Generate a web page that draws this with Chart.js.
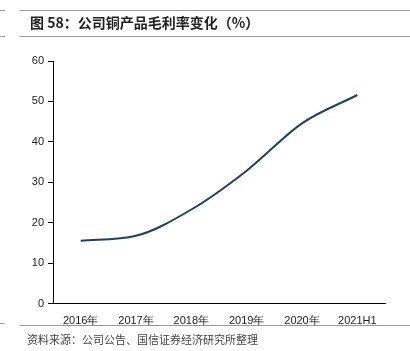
<!DOCTYPE html>
<html>
<head>
<meta charset="utf-8">
<script src="https://cdn.jsdelivr.net/npm/chart.js@4"></script>
<style>
  body { margin: 0; background: #fff; width: 410px; height: 351px; position: relative; overflow: hidden; }
  #title { position: absolute; left: 30px; top: 12px; font: bold 14px "Noto Sans CJK SC", sans-serif; color: #222; white-space: nowrap; z-index: 2; }
  #source { position: absolute; left: 27px; top: 331px; font: 11px "Noto Sans CJK SC", sans-serif; color: #444; white-space: nowrap; z-index: 2; }
  #wrap { position: absolute; left: 0; top: 0; width: 410px; height: 351px; }
</style>
</head>
<body>
<div id="wrap"><canvas id="margin_chart"></canvas></div>
<div id="title">图 58：公司铜产品毛利率变化（%）</div>
<div id="source">资料来源：公司公告、国信证券经济研究所整理</div>
<script>
const years = ['2016年', '2017年', '2018年', '2019年', '2020年', '2021H1'];
const grossMargin = [15.6, 16.8, 23.3, 32.9, 44.6, 51.6];
const yTicks = [0, 10, 20, 30, 40, 50, 60];

// grey rules of the report frame (header and footer)
const frameRules = {
  id: 'frameRules',
  beforeDraw(chart) {
    const c = chart.ctx;
    c.save();
    c.strokeStyle = '#999';
    c.lineWidth = 1;
    [[20, 410, 10.5], [20, 410, 36.5], [20, 410, 325.5], [0, 5, 10.5], [0, 5, 36.5], [0, 4, 323.5]].forEach(r => {
      c.beginPath();
      c.moveTo(r[0], r[2]);
      c.lineTo(r[1], r[2]);
      c.stroke();
    });
    c.restore();
  }
};

var ctx = document.getElementById('margin_chart');
var marginChart = new Chart(ctx, {
  type: 'line',
  data: {
    labels: years,
    datasets: [{
      data: grossMargin,
      borderColor: '#1f3f66',
      borderWidth: 2,
      pointRadius: 0,
      cubicInterpolationMode: 'monotone',
      fill: false
    }]
  },
  options: {
    responsive: true,
    maintainAspectRatio: false,
    animation: false,
    layout: { padding: { top: 61, right: 25, left: 0, bottom: 20 } },
    plugins: { legend: { display: false }, tooltip: { enabled: false } },
    scales: {
      x: {
        offset: true,
        grid: { display: false },
        border: { display: true, color: '#000', width: 1 },
        ticks: { color: '#222', font: { family: 'Liberation Sans', size: 11 }, padding: 3, maxRotation: 0 }
      },
      y: {
        min: yTicks[0],
        max: yTicks[yTicks.length - 1],
        afterBuildTicks: s => { s.ticks = yTicks.map(v => ({ value: v })); },
        grid: { display: true, drawOnChartArea: false, drawTicks: true, tickLength: 5, color: '#000' },
        border: { display: true, color: '#000', width: 1 },
        ticks: { color: '#222', font: { family: 'Liberation Sans', size: 11 }, padding: 4 },
        afterFit: s => { s.width = 53; }
      }
    }
  },
  plugins: [frameRules]
});
</script>
</body>
</html>
